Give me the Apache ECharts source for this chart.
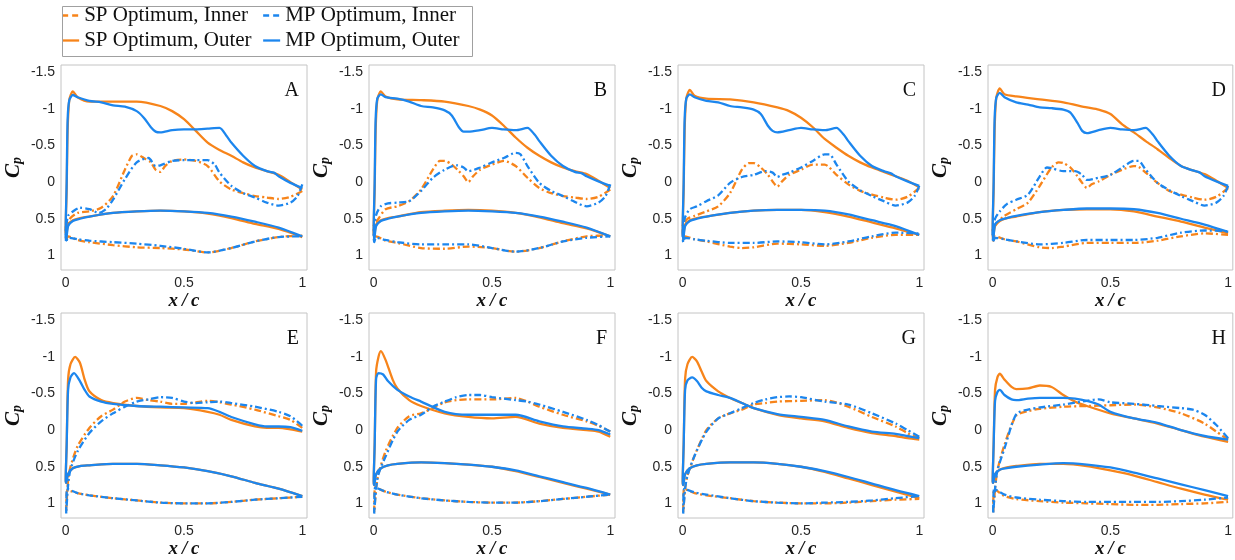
<!DOCTYPE html>
<html><head><meta charset="utf-8">
<script src="https://cdn.jsdelivr.net/npm/echarts@6/dist/echarts.min.js"></script>
<style>html,body{margin:0;padding:0;background:#fff}#c{width:1235px;height:560px}</style>
</head><body><div id="c"></div>
<script>
// ---------- DATA: [x/c, Cp] along upper (Up) and lower (Lo) surfaces ----------
const panelNames = ['A','B','C','D','E','F','G','H'];
const seriesNames = ['SP Optimum, Inner','SP Optimum, Outer','MP Optimum, Inner','MP Optimum, Outer'];
const xTicks = [0, 0.5, 1];
const yTicks = [-1.5, -1, -0.5, 0, 0.5, 1];

// Panel A
const A_spInUp = [[0,0.62],[0.02,0.49],[0.05,0.42],[0.1,0.4],[0.15,0.35],[0.2,0.19],[0.25,-0.17],[0.28,-0.36],[0.3,-0.38],[0.33,-0.33],[0.36,-0.27],[0.38,-0.17],[0.4,-0.14],[0.42,-0.22],[0.45,-0.29],[0.5,-0.31],[0.55,-0.29],[0.6,-0.22],[0.65,-0.01],[0.7,0.1],[0.75,0.15],[0.8,0.19],[0.85,0.21],[0.9,0.23],[0.95,0.2],[1,0.12]];
const A_spInLo = [[0.002,0.8],[0.01,0.74],[0.05,0.79],[0.1,0.82],[0.2,0.86],[0.3,0.89],[0.4,0.9],[0.5,0.92],[0.6,0.96],[0.7,0.9],[0.8,0.81],[0.9,0.75],[1,0.73]];
const A_spOutUp = [[0,0.62],[0.004,0.1],[0.008,-0.7],[0.015,-1.12],[0.03,-1.24],[0.05,-1.16],[0.1,-1.1],[0.2,-1.1],[0.3,-1.1],[0.4,-1.04],[0.45,-0.97],[0.5,-0.86],[0.55,-0.7],[0.6,-0.54],[0.65,-0.44],[0.7,-0.36],[0.75,-0.27],[0.8,-0.2],[0.85,-0.15],[0.9,-0.1],[0.95,0.0],[1,0.1]];
const A_spOutLo = [[0.002,0.75],[0.01,0.58],[0.03,0.52],[0.06,0.49],[0.1,0.47],[0.2,0.42],[0.3,0.4],[0.4,0.39],[0.5,0.4],[0.6,0.43],[0.7,0.49],[0.8,0.57],[0.9,0.64],[1,0.75]];
const A_mpInUp = [[0,0.69],[0.01,0.46],[0.03,0.4],[0.06,0.35],[0.1,0.37],[0.14,0.42],[0.17,0.37],[0.2,0.24],[0.25,-0.04],[0.3,-0.27],[0.35,-0.33],[0.38,-0.22],[0.4,-0.23],[0.45,-0.29],[0.5,-0.3],[0.55,-0.3],[0.6,-0.3],[0.63,-0.24],[0.65,-0.13],[0.7,0.05],[0.75,0.15],[0.8,0.21],[0.85,0.28],[0.9,0.32],[0.95,0.28],[0.98,0.19],[1,0.03]];
const A_mpInLo = [[0.002,0.82],[0.01,0.76],[0.05,0.78],[0.1,0.8],[0.2,0.82],[0.3,0.84],[0.4,0.87],[0.5,0.91],[0.6,0.96],[0.7,0.9],[0.8,0.81],[0.9,0.75],[1,0.74]];
const A_mpOutUp = [[0,0.62],[0.004,0.0],[0.008,-0.85],[0.015,-1.12],[0.03,-1.19],[0.05,-1.16],[0.1,-1.11],[0.15,-1.09],[0.2,-1.05],[0.25,-1.03],[0.3,-0.97],[0.33,-0.88],[0.36,-0.75],[0.38,-0.69],[0.4,-0.68],[0.45,-0.71],[0.5,-0.72],[0.55,-0.72],[0.6,-0.73],[0.65,-0.74],[0.68,-0.63],[0.7,-0.54],[0.75,-0.36],[0.8,-0.22],[0.85,-0.15],[0.88,-0.13],[0.9,-0.08],[0.95,0.01],[1,0.08]];
const A_mpOutLo = [[0.002,0.8],[0.01,0.6],[0.03,0.53],[0.06,0.5],[0.1,0.47],[0.2,0.42],[0.3,0.4],[0.4,0.39],[0.5,0.4],[0.6,0.42],[0.7,0.47],[0.8,0.54],[0.9,0.62],[1,0.74]];

// Panel B
const B_spInUp = [[0,0.6],[0.02,0.5],[0.05,0.37],[0.1,0.33],[0.15,0.26],[0.2,0.1],[0.25,-0.17],[0.28,-0.29],[0.3,-0.29],[0.33,-0.24],[0.36,-0.15],[0.38,-0.08],[0.4,0.0],[0.42,-0.08],[0.45,-0.17],[0.5,-0.24],[0.55,-0.29],[0.6,-0.22],[0.65,-0.06],[0.7,0.08],[0.75,0.15],[0.8,0.19],[0.85,0.21],[0.9,0.23],[0.95,0.2],[1,0.1]];
const B_spInLo = [[0.002,0.8],[0.01,0.74],[0.05,0.8],[0.1,0.83],[0.2,0.9],[0.3,0.91],[0.4,0.88],[0.5,0.9],[0.6,0.95],[0.7,0.9],[0.8,0.81],[0.9,0.74],[1,0.73]];
const B_spOutUp = [[0,0.62],[0.004,0.1],[0.008,-0.7],[0.015,-1.12],[0.03,-1.24],[0.05,-1.17],[0.1,-1.13],[0.2,-1.12],[0.3,-1.1],[0.4,-1.04],[0.45,-0.99],[0.5,-0.91],[0.55,-0.77],[0.6,-0.61],[0.65,-0.47],[0.7,-0.36],[0.75,-0.27],[0.8,-0.2],[0.85,-0.15],[0.9,-0.11],[0.95,-0.02],[1,0.08]];
const B_spOutLo = [[0.002,0.75],[0.01,0.58],[0.03,0.52],[0.06,0.49],[0.1,0.47],[0.2,0.41],[0.3,0.39],[0.4,0.38],[0.5,0.39],[0.6,0.42],[0.7,0.48],[0.8,0.56],[0.9,0.63],[1,0.74]];
const B_mpInUp = [[0,0.7],[0.01,0.45],[0.03,0.33],[0.06,0.29],[0.1,0.28],[0.15,0.26],[0.2,0.12],[0.25,-0.06],[0.3,-0.17],[0.35,-0.23],[0.38,-0.2],[0.4,-0.15],[0.45,-0.2],[0.5,-0.27],[0.55,-0.33],[0.6,-0.4],[0.62,-0.38],[0.65,-0.22],[0.7,0.01],[0.75,0.12],[0.8,0.19],[0.85,0.27],[0.9,0.33],[0.95,0.28],[0.98,0.19],[1,0.03]];
const B_mpInLo = [[0.002,0.82],[0.01,0.76],[0.05,0.79],[0.1,0.82],[0.2,0.85],[0.3,0.85],[0.4,0.85],[0.5,0.9],[0.6,0.95],[0.7,0.9],[0.8,0.81],[0.9,0.76],[1,0.74]];
const B_mpOutUp = [[0,0.62],[0.004,0.0],[0.008,-0.85],[0.015,-1.14],[0.03,-1.2],[0.05,-1.16],[0.1,-1.14],[0.15,-1.1],[0.2,-1.04],[0.25,-1.02],[0.3,-0.98],[0.33,-0.91],[0.36,-0.75],[0.38,-0.69],[0.4,-0.69],[0.45,-0.71],[0.5,-0.74],[0.55,-0.72],[0.6,-0.71],[0.65,-0.74],[0.68,-0.65],[0.7,-0.56],[0.75,-0.36],[0.8,-0.22],[0.85,-0.14],[0.88,-0.12],[0.9,-0.08],[0.95,-0.01],[1,0.05]];
const B_mpOutLo = [[0.002,0.8],[0.01,0.6],[0.03,0.53],[0.06,0.5],[0.1,0.47],[0.2,0.42],[0.3,0.4],[0.4,0.39],[0.5,0.4],[0.6,0.42],[0.7,0.47],[0.8,0.54],[0.9,0.62],[1,0.74]];

// Panel C
const C_spInUp = [[0,0.6],[0.02,0.5],[0.05,0.46],[0.1,0.4],[0.15,0.33],[0.2,0.15],[0.25,-0.17],[0.28,-0.26],[0.3,-0.26],[0.33,-0.2],[0.36,-0.1],[0.38,-0.01],[0.4,0.06],[0.42,-0.01],[0.45,-0.1],[0.5,-0.17],[0.55,-0.24],[0.6,-0.24],[0.65,-0.1],[0.7,0.03],[0.75,0.12],[0.8,0.17],[0.85,0.21],[0.9,0.24],[0.95,0.2],[1,0.08]];
const C_spInLo = [[0.002,0.8],[0.01,0.74],[0.05,0.78],[0.1,0.81],[0.2,0.88],[0.25,0.9],[0.3,0.89],[0.4,0.84],[0.5,0.85],[0.6,0.87],[0.7,0.83],[0.8,0.76],[0.9,0.72],[1,0.72]];
const C_spOutUp = [[0,0.62],[0.004,0.1],[0.008,-0.7],[0.015,-1.14],[0.03,-1.26],[0.05,-1.18],[0.1,-1.14],[0.2,-1.13],[0.3,-1.09],[0.4,-1.02],[0.45,-0.97],[0.5,-0.88],[0.55,-0.75],[0.6,-0.59],[0.65,-0.47],[0.7,-0.36],[0.75,-0.27],[0.8,-0.2],[0.85,-0.14],[0.9,-0.08],[0.95,-0.02],[1,0.07]];
const C_spOutLo = [[0.002,0.75],[0.01,0.58],[0.03,0.52],[0.06,0.49],[0.1,0.47],[0.2,0.42],[0.3,0.39],[0.4,0.38],[0.5,0.38],[0.6,0.41],[0.7,0.47],[0.8,0.55],[0.9,0.63],[1,0.72]];
const C_mpInUp = [[0,0.7],[0.01,0.48],[0.03,0.37],[0.06,0.33],[0.1,0.26],[0.15,0.18],[0.2,0.01],[0.25,-0.07],[0.3,-0.1],[0.35,-0.15],[0.38,-0.13],[0.4,-0.07],[0.42,-0.1],[0.45,-0.13],[0.5,-0.2],[0.55,-0.29],[0.6,-0.38],[0.62,-0.38],[0.65,-0.24],[0.7,-0.01],[0.75,0.11],[0.8,0.19],[0.85,0.26],[0.9,0.32],[0.95,0.28],[0.98,0.19],[1,0.05]];
const C_mpInLo = [[0.002,0.82],[0.01,0.76],[0.05,0.78],[0.1,0.8],[0.2,0.83],[0.3,0.83],[0.4,0.81],[0.5,0.82],[0.6,0.85],[0.7,0.81],[0.8,0.74],[0.9,0.69],[1,0.7]];
const C_mpOutUp = [[0,0.62],[0.004,0.0],[0.008,-0.85],[0.015,-1.14],[0.03,-1.2],[0.05,-1.16],[0.1,-1.11],[0.15,-1.09],[0.2,-1.04],[0.25,-1.02],[0.3,-0.99],[0.33,-0.93],[0.36,-0.77],[0.38,-0.7],[0.4,-0.68],[0.45,-0.71],[0.5,-0.74],[0.55,-0.72],[0.6,-0.71],[0.65,-0.74],[0.68,-0.65],[0.7,-0.56],[0.75,-0.36],[0.8,-0.22],[0.85,-0.15],[0.88,-0.12],[0.9,-0.08],[0.95,-0.01],[1,0.05]];
const C_mpOutLo = [[0.002,0.8],[0.01,0.6],[0.03,0.53],[0.06,0.5],[0.1,0.47],[0.2,0.42],[0.3,0.39],[0.4,0.38],[0.5,0.38],[0.6,0.39],[0.7,0.44],[0.8,0.52],[0.9,0.6],[1,0.72]];

// Panel D
const D_spInUp = [[0,0.65],[0.02,0.55],[0.05,0.46],[0.1,0.37],[0.15,0.28],[0.2,0.05],[0.25,-0.2],[0.28,-0.27],[0.3,-0.26],[0.33,-0.2],[0.36,-0.08],[0.38,0.01],[0.4,0.08],[0.42,0.03],[0.45,-0.01],[0.5,-0.1],[0.55,-0.17],[0.6,-0.22],[0.62,-0.21],[0.65,-0.13],[0.7,0.01],[0.75,0.12],[0.8,0.17],[0.85,0.21],[0.9,0.24],[0.95,0.2],[1,0.08]];
const D_spInLo = [[0.002,0.8],[0.01,0.74],[0.05,0.78],[0.1,0.81],[0.2,0.89],[0.25,0.9],[0.3,0.88],[0.4,0.83],[0.5,0.83],[0.6,0.83],[0.7,0.8],[0.8,0.74],[0.9,0.7],[1,0.72]];
const D_spOutUp = [[0,0.62],[0.004,0.1],[0.008,-0.7],[0.015,-1.15],[0.03,-1.28],[0.05,-1.2],[0.1,-1.17],[0.2,-1.13],[0.3,-1.09],[0.4,-1.02],[0.45,-0.99],[0.5,-0.93],[0.55,-0.79],[0.6,-0.68],[0.65,-0.56],[0.7,-0.45],[0.75,-0.33],[0.8,-0.22],[0.85,-0.16],[0.9,-0.11],[0.95,-0.02],[1,0.08]];
const D_spOutLo = [[0.002,0.75],[0.01,0.6],[0.03,0.53],[0.06,0.49],[0.1,0.47],[0.2,0.41],[0.3,0.38],[0.4,0.37],[0.5,0.37],[0.6,0.4],[0.7,0.47],[0.8,0.54],[0.9,0.62],[1,0.7]];
const D_mpInUp = [[0,0.7],[0.01,0.5],[0.03,0.4],[0.06,0.3],[0.1,0.24],[0.15,0.17],[0.2,-0.08],[0.23,-0.2],[0.25,-0.19],[0.3,-0.15],[0.35,-0.15],[0.38,-0.1],[0.4,-0.03],[0.45,-0.06],[0.5,-0.1],[0.55,-0.2],[0.6,-0.29],[0.62,-0.29],[0.65,-0.17],[0.7,0.01],[0.75,0.11],[0.8,0.19],[0.85,0.26],[0.9,0.32],[0.95,0.28],[0.98,0.19],[1,0.05]];
const D_mpInLo = [[0.002,0.82],[0.01,0.76],[0.05,0.78],[0.1,0.81],[0.2,0.85],[0.3,0.83],[0.4,0.79],[0.5,0.79],[0.6,0.79],[0.7,0.76],[0.8,0.69],[0.9,0.66],[1,0.67]];
const D_mpOutUp = [[0,0.62],[0.004,0.0],[0.008,-0.85],[0.015,-1.15],[0.03,-1.22],[0.05,-1.16],[0.1,-1.09],[0.15,-1.06],[0.2,-1.02],[0.25,-1.01],[0.3,-0.99],[0.33,-0.95],[0.36,-0.81],[0.38,-0.7],[0.4,-0.67],[0.45,-0.71],[0.5,-0.74],[0.55,-0.72],[0.6,-0.71],[0.65,-0.74],[0.68,-0.65],[0.7,-0.56],[0.75,-0.36],[0.8,-0.22],[0.85,-0.16],[0.88,-0.13],[0.9,-0.08],[0.95,-0.01],[1,0.05]];
const D_mpOutLo = [[0.002,0.8],[0.01,0.58],[0.03,0.52],[0.06,0.49],[0.1,0.46],[0.2,0.41],[0.3,0.38],[0.4,0.36],[0.5,0.36],[0.6,0.37],[0.7,0.42],[0.8,0.5],[0.9,0.58],[1,0.68]];

// Panel E
const E_spInUp = [[0.002,1.1],[0.01,0.68],[0.02,0.5],[0.05,0.22],[0.1,-0.03],[0.15,-0.19],[0.2,-0.28],[0.25,-0.39],[0.3,-0.44],[0.35,-0.41],[0.4,-0.39],[0.45,-0.36],[0.5,-0.36],[0.55,-0.38],[0.6,-0.4],[0.65,-0.38],[0.7,-0.35],[0.8,-0.28],[0.9,-0.19],[0.95,-0.14],[1,-0.03]];
const E_spInLo = [[0.006,0.82],[0.05,0.86],[0.1,0.89],[0.2,0.93],[0.3,0.96],[0.4,0.99],[0.5,1.0],[0.6,1.0],[0.7,0.98],[0.8,0.95],[0.9,0.93],[1,0.91]];
const E_spOutUp = [[0,0.68],[0.004,0.2],[0.01,-0.69],[0.02,-0.9],[0.04,-1.0],[0.06,-0.92],[0.08,-0.69],[0.1,-0.53],[0.15,-0.41],[0.2,-0.37],[0.3,-0.33],[0.4,-0.31],[0.5,-0.3],[0.6,-0.25],[0.65,-0.21],[0.7,-0.14],[0.8,-0.05],[0.85,-0.03],[0.9,-0.03],[0.95,-0.01],[1,0.02]];
const E_spOutLo = [[0.002,0.72],[0.01,0.6],[0.03,0.52],[0.06,0.49],[0.1,0.48],[0.2,0.46],[0.3,0.46],[0.4,0.48],[0.5,0.51],[0.6,0.56],[0.7,0.63],[0.8,0.72],[0.9,0.8],[1,0.9]];
const E_mpInUp = [[0.002,1.14],[0.01,0.75],[0.02,0.54],[0.05,0.29],[0.1,0.04],[0.15,-0.12],[0.2,-0.23],[0.25,-0.32],[0.3,-0.39],[0.35,-0.42],[0.4,-0.45],[0.45,-0.44],[0.5,-0.39],[0.55,-0.37],[0.6,-0.38],[0.65,-0.39],[0.7,-0.37],[0.8,-0.32],[0.9,-0.25],[0.95,-0.19],[1,-0.06]];
const E_mpInLo = [[0.006,0.8],[0.05,0.86],[0.1,0.89],[0.2,0.93],[0.3,0.96],[0.4,0.99],[0.5,1.0],[0.6,1.0],[0.7,0.98],[0.8,0.95],[0.9,0.93],[1,0.91]];
const E_mpOutUp = [[0,0.68],[0.004,0.2],[0.01,-0.55],[0.02,-0.72],[0.035,-0.78],[0.06,-0.67],[0.08,-0.55],[0.1,-0.46],[0.15,-0.39],[0.2,-0.36],[0.3,-0.33],[0.4,-0.32],[0.5,-0.31],[0.6,-0.3],[0.65,-0.25],[0.7,-0.18],[0.8,-0.08],[0.85,-0.05],[0.9,-0.05],[0.95,-0.04],[1,0.01]];
const E_mpOutLo = [[0.002,0.72],[0.01,0.6],[0.03,0.52],[0.06,0.49],[0.1,0.48],[0.2,0.46],[0.3,0.46],[0.4,0.48],[0.5,0.51],[0.6,0.56],[0.7,0.63],[0.8,0.72],[0.9,0.8],[1,0.9]];

// Panel F
const F_spInUp = [[0.002,1.12],[0.01,0.8],[0.02,0.6],[0.05,0.29],[0.1,-0.03],[0.15,-0.19],[0.2,-0.23],[0.25,-0.3],[0.3,-0.38],[0.35,-0.41],[0.4,-0.42],[0.5,-0.42],[0.6,-0.44],[0.65,-0.39],[0.7,-0.32],[0.8,-0.21],[0.9,-0.12],[0.95,-0.06],[1,0.02]];
const F_spInLo = [[0.006,0.78],[0.05,0.84],[0.1,0.88],[0.2,0.93],[0.3,0.96],[0.4,0.98],[0.5,0.99],[0.6,0.99],[0.7,0.97],[0.8,0.94],[0.9,0.91],[1,0.88]];
const F_spOutUp = [[0,0.7],[0.004,0.2],[0.01,-0.8],[0.02,-1.0],[0.03,-1.08],[0.05,-0.96],[0.08,-0.69],[0.1,-0.57],[0.15,-0.41],[0.2,-0.33],[0.3,-0.23],[0.4,-0.18],[0.5,-0.16],[0.6,-0.18],[0.7,-0.09],[0.8,-0.03],[0.9,0.0],[0.95,0.02],[1,0.09]];
const F_spOutLo = [[0.002,0.75],[0.01,0.6],[0.03,0.52],[0.06,0.48],[0.1,0.46],[0.2,0.44],[0.3,0.45],[0.4,0.47],[0.5,0.5],[0.6,0.56],[0.7,0.64],[0.8,0.72],[0.9,0.8],[1,0.88]];
const F_mpInUp = [[0.002,1.14],[0.01,0.8],[0.02,0.6],[0.05,0.36],[0.1,0.02],[0.15,-0.14],[0.2,-0.21],[0.25,-0.32],[0.3,-0.39],[0.35,-0.45],[0.4,-0.48],[0.45,-0.48],[0.5,-0.45],[0.6,-0.41],[0.65,-0.39],[0.7,-0.35],[0.8,-0.25],[0.9,-0.14],[0.95,-0.07],[1,0.02]];
const F_mpInLo = [[0.006,0.78],[0.05,0.84],[0.1,0.88],[0.2,0.93],[0.3,0.96],[0.4,0.98],[0.5,0.99],[0.6,0.99],[0.7,0.97],[0.8,0.94],[0.9,0.91],[1,0.88]];
const F_mpOutUp = [[0,0.7],[0.004,0.2],[0.01,-0.7],[0.02,-0.78],[0.04,-0.76],[0.06,-0.67],[0.1,-0.55],[0.15,-0.46],[0.2,-0.39],[0.3,-0.25],[0.4,-0.21],[0.5,-0.21],[0.6,-0.21],[0.7,-0.12],[0.8,-0.05],[0.9,-0.02],[0.95,0.0],[1,0.06]];
const F_mpOutLo = [[0.002,0.75],[0.01,0.6],[0.03,0.52],[0.06,0.48],[0.1,0.46],[0.2,0.44],[0.3,0.45],[0.4,0.47],[0.5,0.5],[0.6,0.55],[0.7,0.63],[0.8,0.71],[0.9,0.79],[1,0.88]];

// Panel G
const G_spInUp = [[0.002,1.12],[0.01,0.8],[0.02,0.62],[0.05,0.35],[0.1,0.0],[0.15,-0.16],[0.2,-0.23],[0.25,-0.28],[0.3,-0.35],[0.35,-0.37],[0.4,-0.39],[0.5,-0.4],[0.6,-0.41],[0.7,-0.32],[0.8,-0.18],[0.9,-0.05],[0.95,0.04],[1,0.11]];
const G_spInLo = [[0.006,0.8],[0.05,0.86],[0.1,0.89],[0.2,0.93],[0.3,0.97],[0.4,0.99],[0.5,1.0],[0.6,1.0],[0.7,0.99],[0.8,0.97],[0.9,0.95],[1,0.94]];
const G_spOutUp = [[0,0.7],[0.004,0.2],[0.01,-0.7],[0.02,-0.9],[0.04,-1.0],[0.06,-0.94],[0.08,-0.8],[0.1,-0.67],[0.15,-0.53],[0.2,-0.44],[0.25,-0.37],[0.3,-0.3],[0.4,-0.21],[0.5,-0.16],[0.6,-0.12],[0.7,-0.03],[0.8,0.04],[0.9,0.08],[0.95,0.11],[1,0.13]];
const G_spOutLo = [[0.002,0.75],[0.01,0.6],[0.03,0.52],[0.06,0.48],[0.1,0.46],[0.2,0.44],[0.3,0.44],[0.4,0.46],[0.5,0.5],[0.6,0.57],[0.7,0.66],[0.8,0.75],[0.9,0.84],[1,0.93]];
const G_mpInUp = [[0.002,1.14],[0.01,0.8],[0.02,0.62],[0.05,0.35],[0.1,0.02],[0.15,-0.16],[0.2,-0.23],[0.25,-0.3],[0.3,-0.37],[0.35,-0.42],[0.4,-0.45],[0.45,-0.46],[0.5,-0.45],[0.6,-0.39],[0.7,-0.35],[0.8,-0.23],[0.9,-0.09],[0.95,0.0],[1,0.09]];
const G_mpInLo = [[0.006,0.8],[0.05,0.85],[0.1,0.88],[0.2,0.93],[0.3,0.97],[0.4,0.99],[0.5,1.0],[0.6,0.99],[0.7,0.98],[0.8,0.96],[0.9,0.93],[1,0.9]];
const G_mpOutUp = [[0,0.7],[0.004,0.2],[0.01,-0.55],[0.02,-0.68],[0.04,-0.72],[0.06,-0.67],[0.08,-0.58],[0.1,-0.53],[0.15,-0.48],[0.2,-0.44],[0.25,-0.37],[0.3,-0.3],[0.4,-0.22],[0.5,-0.18],[0.6,-0.14],[0.7,-0.05],[0.8,0.02],[0.9,0.05],[0.95,0.08],[1,0.11]];
const G_mpOutLo = [[0.002,0.75],[0.01,0.6],[0.03,0.52],[0.06,0.48],[0.1,0.46],[0.2,0.44],[0.3,0.44],[0.4,0.46],[0.5,0.5],[0.6,0.56],[0.7,0.64],[0.8,0.73],[0.9,0.82],[1,0.9]];

// Panel H
const H_spInUp = [[0.002,1.12],[0.01,0.8],[0.02,0.55],[0.05,0.2],[0.1,-0.2],[0.15,-0.26],[0.2,-0.29],[0.3,-0.32],[0.4,-0.33],[0.5,-0.34],[0.6,-0.35],[0.7,-0.31],[0.8,-0.23],[0.9,-0.09],[0.95,0.02],[1,0.13]];
const H_spInLo = [[0.006,0.8],[0.05,0.9],[0.1,0.94],[0.2,0.97],[0.3,0.99],[0.4,1.0],[0.5,1.01],[0.6,1.02],[0.7,1.02],[0.8,1.01],[0.9,1.0],[1,0.98]];
const H_spOutUp = [[0,0.7],[0.004,0.2],[0.01,-0.55],[0.02,-0.72],[0.03,-0.77],[0.05,-0.69],[0.08,-0.59],[0.1,-0.56],[0.15,-0.57],[0.2,-0.61],[0.25,-0.59],[0.3,-0.48],[0.35,-0.39],[0.4,-0.33],[0.5,-0.23],[0.6,-0.16],[0.7,-0.09],[0.8,0.0],[0.9,0.09],[1,0.16]];
const H_spOutLo = [[0.002,0.72],[0.01,0.6],[0.03,0.54],[0.06,0.51],[0.1,0.49],[0.2,0.46],[0.3,0.46],[0.4,0.49],[0.5,0.55],[0.6,0.62],[0.7,0.71],[0.8,0.8],[0.9,0.88],[1,0.95]];
const H_mpInUp = [[0.002,1.14],[0.01,0.8],[0.02,0.55],[0.05,0.25],[0.1,-0.22],[0.15,-0.28],[0.2,-0.31],[0.3,-0.35],[0.4,-0.4],[0.45,-0.42],[0.5,-0.38],[0.6,-0.36],[0.7,-0.33],[0.8,-0.3],[0.85,-0.28],[0.9,-0.21],[0.95,-0.07],[1,0.11]];
const H_mpInLo = [[0.006,0.8],[0.05,0.88],[0.1,0.92],[0.2,0.95],[0.3,0.97],[0.4,0.98],[0.5,0.98],[0.6,0.98],[0.7,0.98],[0.8,0.97],[0.9,0.95],[1,0.92]];
const H_mpOutUp = [[0,0.7],[0.004,0.2],[0.01,-0.4],[0.02,-0.52],[0.03,-0.55],[0.05,-0.48],[0.08,-0.42],[0.1,-0.41],[0.15,-0.43],[0.2,-0.44],[0.3,-0.44],[0.35,-0.43],[0.4,-0.4],[0.45,-0.35],[0.5,-0.25],[0.6,-0.16],[0.7,-0.1],[0.8,0.0],[0.9,0.08],[1,0.13]];
const H_mpOutLo = [[0.002,0.72],[0.01,0.6],[0.03,0.54],[0.06,0.52],[0.1,0.5],[0.2,0.47],[0.3,0.45],[0.4,0.47],[0.5,0.51],[0.6,0.58],[0.7,0.66],[0.8,0.74],[0.9,0.82],[1,0.9]];

// table built from the arrays above: per panel, [up, lo] for each of the 4 series
const curves = {
  A:[[A_spInUp,A_spInLo],[A_spOutUp,A_spOutLo],[A_mpInUp,A_mpInLo],[A_mpOutUp,A_mpOutLo]],
  B:[[B_spInUp,B_spInLo],[B_spOutUp,B_spOutLo],[B_mpInUp,B_mpInLo],[B_mpOutUp,B_mpOutLo]],
  C:[[C_spInUp,C_spInLo],[C_spOutUp,C_spOutLo],[C_mpInUp,C_mpInLo],[C_mpOutUp,C_mpOutLo]],
  D:[[D_spInUp,D_spInLo],[D_spOutUp,D_spOutLo],[D_mpInUp,D_mpInLo],[D_mpOutUp,D_mpOutLo]],
  E:[[E_spInUp,E_spInLo],[E_spOutUp,E_spOutLo],[E_mpInUp,E_mpInLo],[E_mpOutUp,E_mpOutLo]],
  F:[[F_spInUp,F_spInLo],[F_spOutUp,F_spOutLo],[F_mpInUp,F_mpInLo],[F_mpOutUp,F_mpOutLo]],
  G:[[G_spInUp,G_spInLo],[G_spOutUp,G_spOutLo],[G_mpInUp,G_mpInLo],[G_mpOutUp,G_mpOutLo]],
  H:[[H_spInUp,H_spInLo],[H_spOutUp,H_spOutLo],[H_mpInUp,H_mpInLo],[H_mpOutUp,H_mpOutLo]]
};

// ---------- STYLE / LAYOUT ----------
const ORANGE = '#F7841A', BLUE = '#1C86EE';
const colors = [ORANGE, ORANGE, BLUE, BLUE];
const DASHDOT = [7, 3, 2, 3];
const dashes = [DASHDOT, 'solid', DASHDOT, 'solid'];
const colLeft = [61, 369, 678, 988];
const rowTop = [65, 313];
const GW = 246, GH = 205;
const W = 1235;
const serif = 'Liberation Serif';
const sans = 'Liberation Sans';

const grid = [], xAxis = [], yAxis = [], series = [], title = [];
panelNames.forEach((p, i) => {
  const left = colLeft[i % 4], top = rowTop[Math.floor(i / 4)];
  grid.push({left: left, top: top, width: GW, height: GH, show: true, borderColor: '#c4c4c4', borderWidth: 1, backgroundColor: '#fff'});
  xAxis.push({
    type: 'value', gridIndex: i, min: -0.02, max: 1.02,
    axisLine: {show: false}, axisTick: {show: false}, splitLine: {show: false},
    axisLabel: {customValues: xTicks, fontFamily: sans, fontSize: 14, color: '#262626', margin: 6},
    name: 'x\u2009/\u2009c', nameLocation: 'middle', nameGap: 22,
    nameTextStyle: {fontFamily: serif, fontStyle: 'italic', fontWeight: 'bold', fontSize: 19, color: '#111'}
  });
  yAxis.push({
    type: 'value', gridIndex: i, min: -1.6, max: 1.2, inverse: true,
    axisLine: {show: false}, axisTick: {show: false}, splitLine: {show: false},
    axisLabel: {customValues: yTicks, fontFamily: sans, fontSize: 14, color: '#262626', margin: 6},
    name: '{c|C}{p|p}', nameLocation: 'middle', nameGap: 37, nameRotate: 90,
    nameTextStyle: {
      rich: {
        c: {fontFamily: serif, fontStyle: 'italic', fontWeight: 'bold', fontSize: 21, color: '#111', verticalAlign: 'bottom', lineHeight: 24},
        p: {fontFamily: serif, fontStyle: 'italic', fontWeight: 'bold', fontSize: 14, color: '#111', verticalAlign: 'bottom', lineHeight: 18}
      }
    }
  });
  title.push({text: p, right: W - (left + GW - 3), top: top + 11,
    textStyle: {fontFamily: serif, fontWeight: 'normal', fontSize: 20, color: '#111'}});
  curves[p].forEach((pair, k) => {
    const loop = pair[0].slice().reverse().concat(pair[1]);
    series.push({
      type: 'line', name: seriesNames[k], xAxisIndex: i, yAxisIndex: i,
      data: loop, showSymbol: false, symbol: 'none', smooth: 0.25,
      lineStyle: {color: colors[k], width: 2.3, type: dashes[k]},
      itemStyle: {color: colors[k]}, z: 2 + k
    });
  });
});

const legendCommon = {
  orient: 'vertical', top: 5, itemGap: 4, itemWidth: 17, itemHeight: 12,
  textStyle: {fontFamily: serif, fontSize: 21, color: '#111'},
  itemStyle: {opacity: 0, borderWidth: 0},
  selectedMode: false, padding: 0
};
const legendItem = (k) => ({name: seriesNames[k], lineStyle: {type: k % 2 === 0 ? [6, 4] : 'solid', width: 2.3, opacity: 1}});

const option = {
  animation: false,
  backgroundColor: '#fff',
  grid, xAxis, yAxis, series, title,
  legend: [
    Object.assign({}, legendCommon, {left: 61, data: [legendItem(0), legendItem(1)]}),
    Object.assign({}, legendCommon, {left: 262, data: [legendItem(2), legendItem(3)]})
  ],
  graphic: [{type: 'rect', left: 60, top: 4, shape: {width: 410, height: 50},
    style: {fill: 'none', stroke: '#a0a0a0', lineWidth: 1}, z: 100, silent: true}]
};
const chart = echarts.init(document.getElementById('c'), null, {renderer: 'canvas'});
chart.setOption(option);
</script></body></html>
